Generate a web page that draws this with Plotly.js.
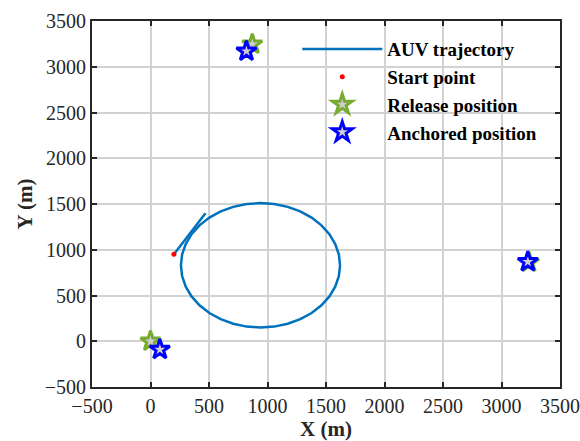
<!DOCTYPE html>
<html>
<head>
<meta charset="utf-8">
<script src="https://cdn.plot.ly/plotly-3.0.1.min.js"></script>
<style>html,body{margin:0;padding:0;background:#fff;}#plot{width:580px;height:441px;}</style>
</head>
<body>
<div id="plot"></div>
<script>
// Straight leg from the start point
var legX = [200, 470];
var legY = [950, 1400];
// Loop part of the trajectory
var loopX = [1620, 1610, 1579, 1529, 1461, 1377, 1280, 1173, 1058, 940, 822, 707, 600, 503, 419, 351, 301, 270, 260, 270, 301, 351, 419, 503, 600, 707, 822, 940, 1058, 1173, 1280, 1377, 1461, 1529, 1579, 1610, 1620];
var loopY = [830, 948, 1063, 1170, 1267, 1351, 1419, 1469, 1500, 1510, 1500, 1469, 1419, 1351, 1267, 1170, 1063, 948, 830, 712, 597, 490, 393, 309, 241, 191, 160, 150, 160, 191, 241, 309, 393, 490, 597, 712, 830];
var startX = [200];
var startY = [950];
var releaseX = [0, 870, 3235];
var releaseY = [0, 3245, 862];
var anchoredX = [80, 820, 3225];
var anchoredY = [-90, 3170, 868];
var xTicks = [-500, 0, 500, 1000, 1500, 2000, 2500, 3000, 3500];
var yTicks = [-500, 0, 500, 1000, 1500, 2000, 2500, 3000, 3500];

var trajX = legX.concat([null], loopX);
var trajY = legY.concat([null], loopY);

var serif = 'Liberation Serif, Times New Roman, serif';
var traces = [
  {x: trajX, y: trajY, mode: 'lines', name: '<b>AUV trajectory</b>', connectgaps: false,
   line: {color: '#0072BD', width: 2.5}},
  {x: startX, y: startY, mode: 'markers', name: '<b>Start point</b>',
   marker: {color: '#FF0000', size: 5}},
  {x: releaseX, y: releaseY, mode: 'markers', name: '<b>Release position</b>',
   marker: {symbol: 'star', size: 15, color: '#cfcfcf', line: {color: '#77AC30', width: 3}}},
  {x: anchoredX, y: anchoredY, mode: 'markers', name: '<b>Anchored position</b>',
   marker: {symbol: 'star', size: 15, color: '#cfcfcf', line: {color: '#0000FF', width: 3}}}
];

var axisCommon = {
  showline: true, linecolor: '#262626', linewidth: 2, mirror: 'ticks',
  ticks: 'inside', ticklen: 5, tickwidth: 2, tickcolor: '#262626',
  showgrid: true, gridcolor: '#d2d2d2', gridwidth: 2, zeroline: false,
  ticklabeloverflow: 'allow',
  tickfont: {family: serif, size: 20, color: '#262626'}
};

var layout = {
  width: 580, height: 441,
  margin: {l: 92, r: 20, t: 21, b: 54},
  paper_bgcolor: '#ffffff', plot_bgcolor: '#ffffff',
  showlegend: true,
  xaxis: Object.assign({}, axisCommon, {
    range: [-500, 3500], tickmode: 'array', tickvals: xTicks, automargin: false,
    title: {text: '<b>X (m)</b>', font: {family: serif, size: 21, color: '#262626'}, standoff: 4}
  }),
  yaxis: Object.assign({}, axisCommon, {
    range: [-500, 3500], tickmode: 'array', tickvals: yTicks, automargin: false,
    title: {text: '<b>Y (m)</b>', font: {family: serif, size: 21, color: '#262626'}, standoff: 6}
  }),
  legend: {
    x: 0.4386, y: 0.975, xanchor: 'left', yanchor: 'top',
    bgcolor: 'rgba(255,255,255,0)', borderwidth: 0,
    font: {family: serif, size: 19, color: '#000'},
    tracegroupgap: 0, itemwidth: 80
  }
};

Plotly.newPlot('plot', traces, layout, {displayModeBar: false, staticPlot: true});
</script>
</body>
</html>
